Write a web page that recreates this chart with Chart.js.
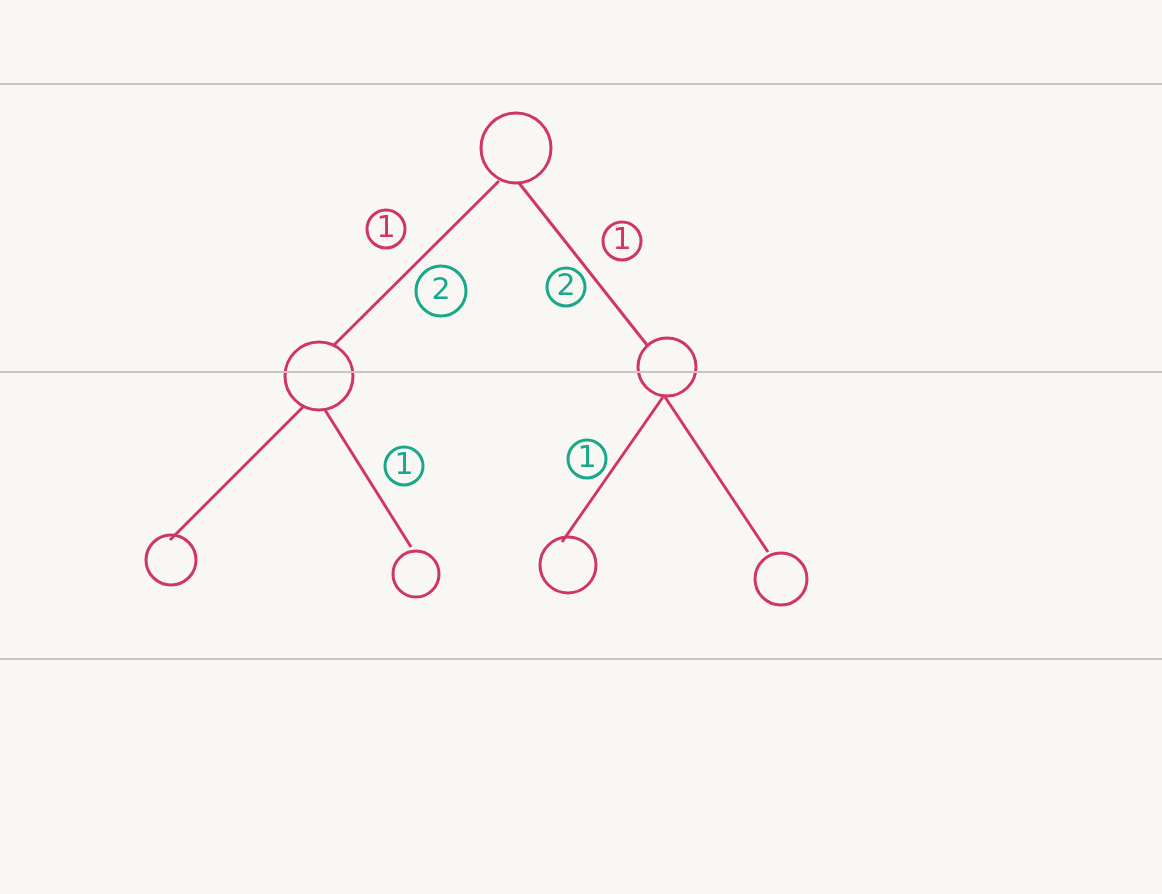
<!DOCTYPE html>
<html lang="en">
  <head>
    <meta charset="UTF-8" />
    <script src="https://cdn.jsdelivr.net/npm/chart.js@4"></script>
    <title>Tree</title>
    <style>
      body { margin: 0; background: #f9f7f3; }
    </style>
  </head>
  <body>
    <canvas id="myChart" width="1162" height="894"></canvas>
    <script>
      // nodes: centre x, centre y, radius (px)
      const nodeX = [516, 319, 667, 171, 416, 568, 781];
      const nodeY = [148, 376, 367, 560, 574, 565, 579];
      const nodeR = [35, 34, 29, 25, 23, 28, 26];

      // edges: [x1, y1, x2, y2]
      const edges = [
        [499, 181, 333, 346],
        [519, 183, 647, 345],
        [303, 407, 170, 540],
        [325, 410, 411, 547],
        [663, 397, 562, 542],
        [665, 397, 768, 552],
      ];

      // circled edge labels
      const labelX = [386, 622, 441, 566, 404, 587];
      const labelY = [229, 241, 291, 287, 466, 459];
      const labelText = ["1", "1", "2", "2", "1", "1"];
      const labelColor = ["#d0356a", "#d0356a", "#1aa88a", "#1aa88a", "#1aa88a", "#1aa88a"];
      const labelR = [19, 19, 25, 19, 19, 19];

      const ruleY = [84, 372, 659];

      const pink = "#d0356a";
      const datasets = [];

      ruleY.forEach((y) => {
        datasets.push({
          type: "line",
          data: [{ x: 0, y: y }, { x: 1162, y: y }],
          borderColor: "#c9c6c2",
          borderWidth: 2,
          pointRadius: 0,
          clip: false,
        });
      });

      edges.forEach((e) => {
        datasets.push({
          type: "line",
          data: [{ x: e[0], y: e[1] }, { x: e[2], y: e[3] }],
          borderColor: pink,
          borderWidth: 3,
          pointRadius: 0,
        });
      });

      datasets.push({
        type: "scatter",
        data: nodeX.map((x, i) => ({ x: x, y: nodeY[i] })),
        pointRadius: nodeR,
        borderColor: pink,
        borderWidth: 3,
        backgroundColor: "rgba(0,0,0,0)",
      });

      datasets.push({
        type: "scatter",
        data: labelX.map((x, i) => ({ x: x, y: labelY[i] })),
        pointRadius: labelR,
        borderColor: labelColor,
        borderWidth: 3,
        backgroundColor: "rgba(0,0,0,0)",
      });

      const textPlugin = {
        id: "labelText",
        afterDatasetsDraw(chart) {
          const c = chart.ctx;
          const xs = chart.scales.x;
          const ys = chart.scales.y;
          c.save();
          c.font = "30px 'DejaVu Sans'";
          c.textAlign = "center";
          c.textBaseline = "middle";
          labelText.forEach((t, i) => {
            c.fillStyle = labelColor[i];
            c.fillText(t, xs.getPixelForValue(labelX[i]), ys.getPixelForValue(labelY[i]));
          });
          c.restore();
        },
      };

      new Chart(document.getElementById("myChart").getContext("2d"), {
        type: "scatter",
        data: { datasets: datasets },
        plugins: [textPlugin],
        options: {
          responsive: false,
          animation: false,
          layout: { padding: 0, autoPadding: false },
          plugins: { legend: { display: false }, tooltip: { enabled: false } },
          scales: {
            x: { type: "linear", min: 0, max: 1162, display: false },
            y: { type: "linear", min: 0, max: 894, reverse: true, display: false },
          },
        },
      });
    </script>
  </body>
</html>
